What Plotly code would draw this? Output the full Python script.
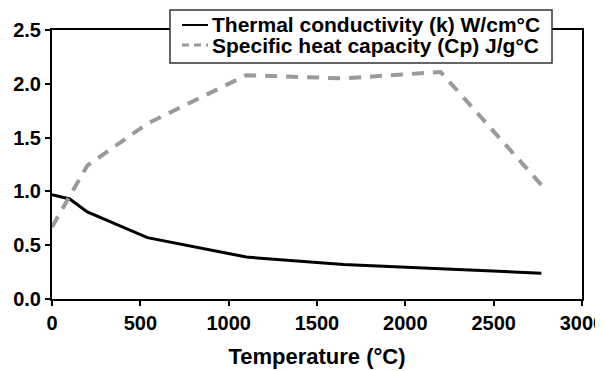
import plotly.graph_objects as go

temperature = [0, 100, 200, 540, 1100, 1650, 2200, 2770]
thermal_k = [0.97, 0.93, 0.81, 0.57, 0.39, 0.32, 0.28, 0.24]
specific_cp = [0.67, 0.96, 1.24, 1.63, 2.08, 2.05, 2.11, 1.06]

x_ticks = [0, 500, 1000, 1500, 2000, 2500, 3000]
y_ticks = [0.0, 0.5, 1.0, 1.5, 2.0, 2.5]

series_names = ["Thermal conductivity (k) W/cm°C", "Specific heat capacity (Cp) J/g°C"]

FONT = "Liberation Sans"
K_COLOR = "black"
CP_COLOR = "#9a9a9a"

fig = go.Figure()
fig.add_trace(go.Scatter(
    x=temperature, y=thermal_k, mode="lines", name=series_names[0],
    line=dict(color=K_COLOR, width=3), showlegend=False,
))
fig.add_trace(go.Scatter(
    x=temperature, y=specific_cp, mode="lines", name=series_names[1],
    line=dict(color=CP_COLOR, width=4, dash="12px,9px"), showlegend=False,
))

# Legend box drawn in paper coordinates (overlapping the top frame, as in the reference)
box = dict(x0=0.2226, x1=0.9434, y0=0.8773, y1=1.0743)
rows_y = [1.0186, 0.9442]
sample_x = (0.2453, 0.2943)
text_x = 0.2981

fig.add_shape(type="rect", xref="paper", yref="paper", layer="above",
              line=dict(color="#333333", width=1.5), fillcolor="white", **box)
fig.add_shape(type="line", xref="paper", yref="paper", layer="above",
              x0=sample_x[0], x1=sample_x[1], y0=rows_y[0], y1=rows_y[0],
              line=dict(color=K_COLOR, width=2))
fig.add_shape(type="line", xref="paper", yref="paper", layer="above",
              x0=sample_x[0], x1=sample_x[1], y0=rows_y[1], y1=rows_y[1],
              line=dict(color=CP_COLOR, width=3, dash="7px,5px"))
for name, ry in zip(series_names, rows_y):
    fig.add_annotation(xref="paper", yref="paper", x=text_x, y=ry,
                       xanchor="left", yanchor="middle", showarrow=False,
                       text=name, font=dict(family=FONT, size=21, color="black", weight="bold"))

# The page body has an 8px default margin, so the figure is 8px smaller than the window
fig.update_layout(
    width=595, height=363,
    margin=dict(l=44, r=21, t=22, b=72, autoexpand=False),
    paper_bgcolor="white", plot_bgcolor="white",
    font=dict(family=FONT, color="black", size=20, weight="bold"),
    showlegend=False,
)
fig.update_xaxes(
    range=[0, 3000], tickvals=x_ticks, tickformat="d",
    ticklabeloverflow="allow",
    showgrid=False, zeroline=False,
    showline=True, linecolor="black", linewidth=2, mirror=True,
    ticks="outside", ticklen=5, tickwidth=2, tickcolor="black",
    tickfont=dict(family=FONT, size=20, weight="bold"),
    title=dict(text="Temperature (°C)", font=dict(family=FONT, size=22, weight="bold"), standoff=16),
)
fig.update_yaxes(
    range=[0, 2.5], tickvals=y_ticks, tickformat=".1f",
    showgrid=False, zeroline=False,
    showline=True, linecolor="black", linewidth=2, mirror=True,
    ticks="outside", ticklen=5, tickwidth=2, tickcolor="black",
    ticklabelstandoff=0,
    tickfont=dict(family=FONT, size=20, weight="bold"),
)

fig.write_html("out.html")
